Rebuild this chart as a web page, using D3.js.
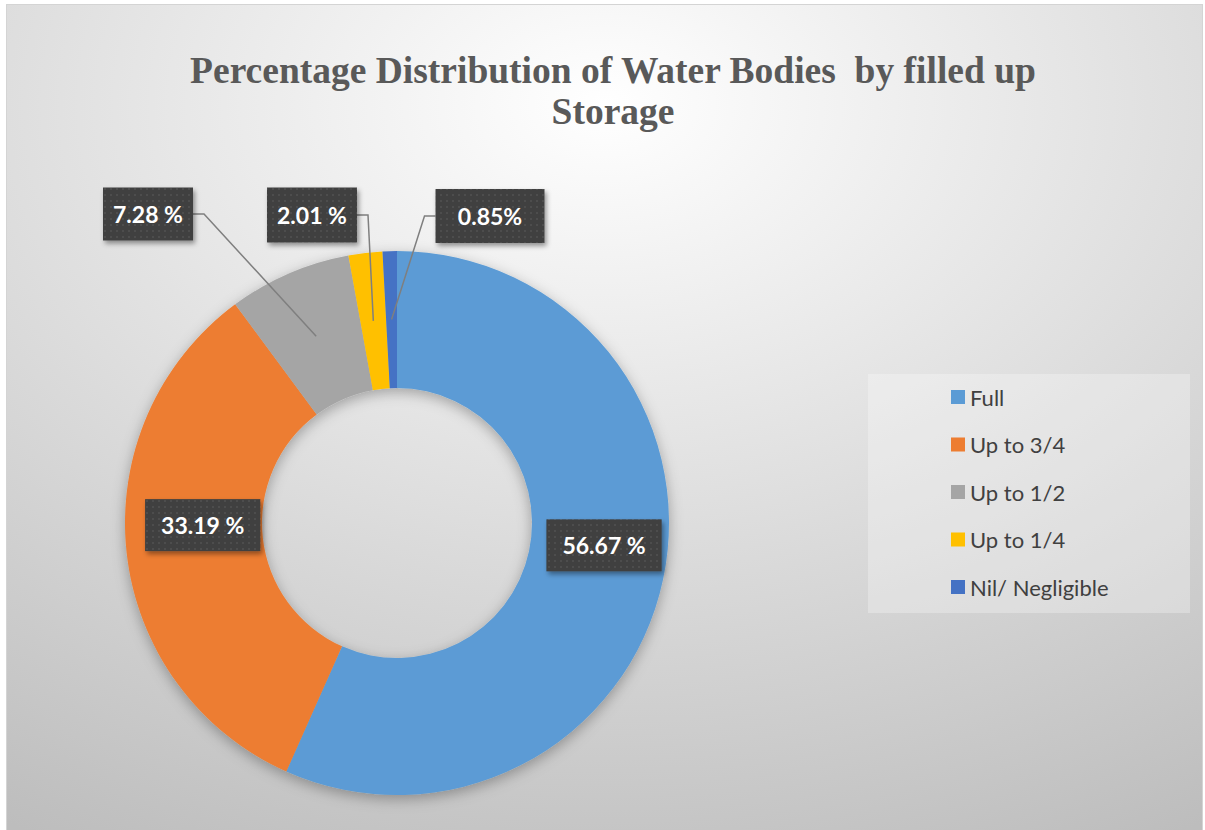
<!DOCTYPE html>
<html>
<head>
<meta charset="utf-8">
<script src="https://cdn.jsdelivr.net/npm/d3@7"></script>
<style>
  body { margin: 0; background: #fff; }
  svg { display: block; }
</style>
</head>
<body>
<div id="chart"></div>
<script>
// datos del gráfico
var categories = ["Full", "Up to 3/4", "Up to 1/2", "Up to 1/4", "Nil/ Negligible"];
var values = [56.67, 33.19, 7.28, 2.01, 0.85];
var labels = ["56.67 %", "33.19 %", "7.28 %", "2.01 %", "0.85%"];
var colors = ["#5B9BD5", "#ED7D31", "#A5A5A5", "#FFC000", "#4472C4"];
var titleLines = ["Percentage Distribution of Water Bodies  by filled up", "Storage"];

// posiciones de las etiquetas (null = dentro del anillo)
var labelLayout = [
  null,
  null,
  { cx: 148, cy: 214, w: 90, h: 53, side: "right" },
  { cx: 312, cy: 215, w: 90, h: 55, side: "right" },
  { cx: 490, cy: 216, w: 109, h: 54, side: "left" }
];

var width = 1205, height = 830;
var cx = 397, cy = 523, outerR = 272, innerR = 135;

var svg = d3.select("#chart").append("svg")
  .attr("width", width)
  .attr("height", height);

var defs = svg.append("defs");

// fondo con degradado radial
var bg = defs.append("radialGradient")
  .attr("id", "bgGrad")
  .attr("cx", "0.5").attr("cy", "0.12").attr("r", "1.0");
bg.append("stop").attr("offset", "0").attr("stop-color", "#ffffff");
bg.append("stop").attr("offset", "1").attr("stop-color", "#bdbdbd");

// sombra del anillo
var sh = defs.append("filter").attr("id", "donutShadow")
  .attr("x", "-20%").attr("y", "-20%").attr("width", "140%").attr("height", "140%");
sh.append("feDropShadow").attr("dx", 0).attr("dy", 4).attr("stdDeviation", 7)
  .attr("flood-color", "#000").attr("flood-opacity", 0.3);

// sombra de las cajas
var bs = defs.append("filter").attr("id", "boxShadow")
  .attr("x", "-20%").attr("y", "-30%").attr("width", "150%").attr("height", "170%");
bs.append("feDropShadow").attr("dx", 2).attr("dy", 3).attr("stdDeviation", 2.5)
  .attr("flood-color", "#000").attr("flood-opacity", 0.4);

// patrón punteado de las cajas
var pat = defs.append("pattern").attr("id", "dots")
  .attr("width", 6).attr("height", 6).attr("patternUnits", "userSpaceOnUse");
pat.append("rect").attr("width", 6).attr("height", 6).attr("fill", "#3f3f3f");
pat.append("rect").attr("x", 2).attr("y", 2).attr("width", 2).attr("height", 2).attr("fill", "#4e4e4e");

// área del gráfico
svg.append("rect")
  .attr("x", 6.5).attr("y", 4.5)
  .attr("width", 1196).attr("height", 830)
  .attr("fill", "url(#bgGrad)")
  .attr("stroke", "#d4d4d4")
  .attr("stroke-width", 1);

// título
svg.append("g")
  .selectAll("text")
  .data(titleLines)
  .enter()
  .append("text")
  .attr("x", 613)
  .attr("y", (d, i) => 83 + i * 41)
  .attr("text-anchor", "middle")
  .attr("font-family", "'Liberation Serif', 'Times New Roman', serif")
  .attr("font-weight", "bold")
  .attr("font-size", 37.5)
  .attr("fill", "#595959")
  .style("white-space", "pre")
  .text(d => d);

// anillo
var pie = d3.pie().sort(null).value(d => d);
var arcs = pie(values);
var arc = d3.arc().innerRadius(innerR).outerRadius(outerR);
var midArc = d3.arc().innerRadius((innerR + outerR) / 2).outerRadius((innerR + outerR) / 2);

var donut = svg.append("g")
  .attr("transform", `translate(${cx},${cy})`);

donut.append("g")
  .attr("filter", "url(#donutShadow)")
  .selectAll("path")
  .data(arcs)
  .enter()
  .append("path")
  .attr("d", arc)
  .attr("fill", (d, i) => colors[i]);

// etiquetas
var labelG = svg.append("g");
arcs.forEach((d, i) => {
  var c = midArc.centroid(d);
  var px = cx + c[0], py = cy + c[1];
  var lay = labelLayout[i];
  var g = labelG.append("g");
  var t = g.append("text")
    .attr("text-anchor", "middle")
    .attr("dominant-baseline", "central")
    .attr("font-family", "Lato, 'Open Sans', sans-serif")
    .attr("font-weight", "bold")
    .attr("font-size", 23)
    .attr("fill", "#ffffff")
    .style("white-space", "pre")
    .text(labels[i]);
  var tw = t.node().getComputedTextLength();
  var bx, by, bw, bh;
  if (lay) {
    bw = lay.w; bh = lay.h; bx = lay.cx - bw / 2; by = lay.cy - bh / 2;
    var sx = lay.side === "right" ? bx + bw : bx;
    var kx = lay.side === "right" ? sx + 11 : sx - 11;
    labelG.insert("polyline", ":first-child")
      .attr("points", `${sx},${lay.cy} ${kx},${lay.cy} ${px},${py}`)
      .attr("fill", "none")
      .attr("stroke", "#7f7f7f")
      .attr("stroke-width", 1.5);
    t.attr("x", lay.cx).attr("y", lay.cy);
  } else {
    bw = tw + 32; bh = 52; bx = px - bw / 2 + 8; by = py - bh / 2 - 20;
    t.attr("x", bx + bw / 2).attr("y", by + bh / 2);
  }
  g.insert("rect", "text")
    .attr("x", bx).attr("y", by)
    .attr("width", bw).attr("height", bh)
    .attr("fill", "url(#dots)")
    .attr("filter", "url(#boxShadow)");
});

// leyenda
var legend = svg.append("g");
legend.append("rect")
  .attr("x", 868).attr("y", 374)
  .attr("width", 322).attr("height", 239)
  .attr("fill", "#ffffff")
  .attr("fill-opacity", 0.28);

var items = legend.selectAll("g.item")
  .data(categories)
  .enter()
  .append("g")
  .attr("class", "item")
  .attr("transform", (d, i) => `translate(951,${397 + i * 47.5})`);

items.append("rect")
  .attr("x", 0).attr("y", -7)
  .attr("width", 14).attr("height", 14)
  .attr("fill", (d, i) => colors[i]);

items.append("text")
  .attr("x", 19)
  .attr("y", 0)
  .attr("dominant-baseline", "central")
  .attr("font-family", "Lato, 'Open Sans', sans-serif")
  .attr("font-size", 22)
  .attr("fill", "#404040")
  .text(d => d);
</script>
</body>
</html>
